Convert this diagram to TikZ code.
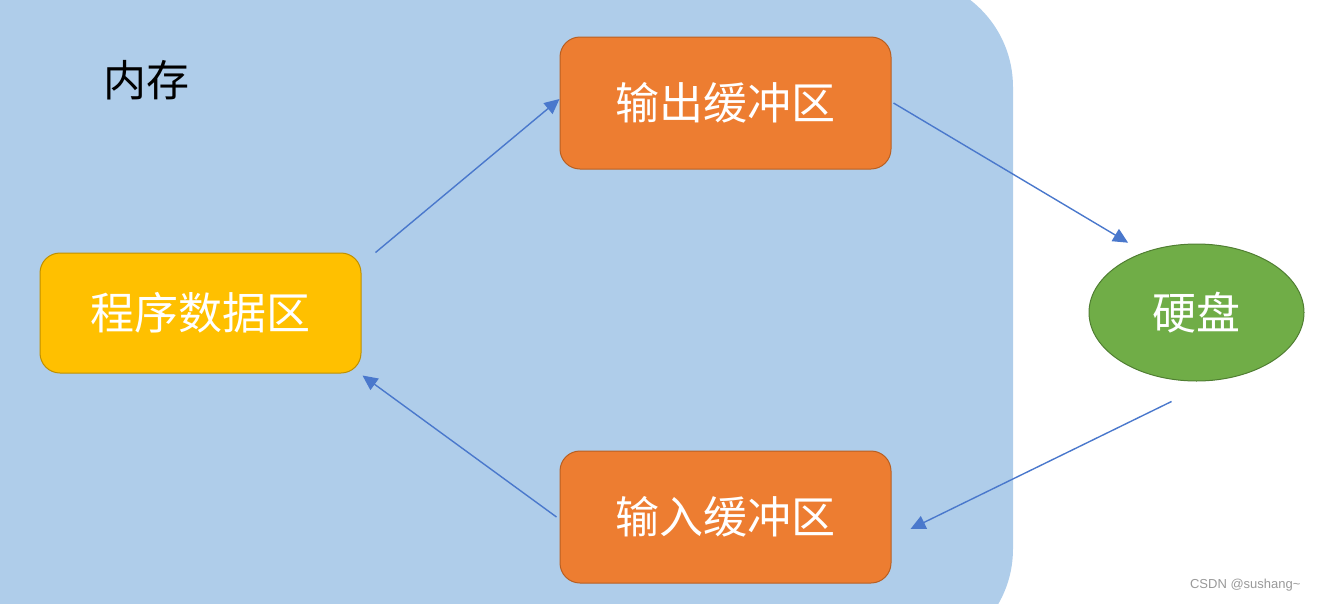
\documentclass[tikz,border=0pt]{standalone}
\usepackage{fontspec}
\newfontfamily\cjk{Noto Sans CJK SC}
\setsansfont{Liberation Sans}
\usetikzlibrary{arrows.meta,shapes.geometric}

\definecolor{memblue}{HTML}{AFCDEA}
\definecolor{bufcol}{HTML}{ED7D31}
\definecolor{bufline}{HTML}{B85F22}
\definecolor{datacol}{HTML}{FFC000}
\definecolor{dataline}{HTML}{BF9000}
\definecolor{diskcol}{HTML}{70AD47}
\definecolor{diskline}{HTML}{507E32}
\definecolor{linkcol}{HTML}{4A78CC}

\begin{document}
\begin{tikzpicture}[x=1pt,y=-1pt,
    box/.style={line width=1pt, rounded corners=20pt, text=white,
        font=\cjk\fontsize{44}{48}\selectfont},
    buf/.style={box, draw=bufline, fill=bufcol, minimum width=331pt, minimum height=132pt},
    link/.style={draw=linkcol, line width=1.4pt, -{Triangle[length=15pt,width=14pt]}}]
    \useasboundingbox (0,0) rectangle (1318,603);
    % memory area
    \begin{scope}
        \clip (0,0) rectangle (1318,603);
        \fill[memblue, rounded corners=110pt] (-200,-23) rectangle (1013,659);
    \end{scope}
    \node (mem) at (146,80) {\cjk\fontsize{43}{48}\selectfont 内存};

    \node[buf] (outbuf) at (725.5,103) {输出缓冲区};
    \node[buf] (inbuf) at (725.5,517) {输入缓冲区};
    \node[box, draw=dataline, fill=datacol, minimum width=321pt, minimum height=120pt] (data) at (200.5,313) {程序数据区};
    \node[ellipse, draw=diskline, fill=diskcol, line width=1pt, minimum width=215pt, minimum height=137pt,
        text=white, font=\cjk\fontsize{44}{48}\selectfont] (disk) at (1196.5,312.5) {硬盘};

    \draw[link] ([xshift=14pt]data.north east) -- ([yshift=4pt]outbuf.west);
    \draw[link] ([xshift=2pt]outbuf.east) -- ([shift={(8,-21)}]disk.north west);
    \draw[link] ([shift={(-25,20)}]disk.south) -- ([shift={(19,12)}]inbuf.east);
    \draw[link] ([xshift=-3pt]inbuf.west) -- ([shift={(1,2)}]data.south east);

    \node[text=gray!80, font=\sffamily\fontsize{13}{15}\selectfont, anchor=east] (mark) at (1304,585) {CSDN @sushang\textasciitilde};
\end{tikzpicture}
\end{document}
